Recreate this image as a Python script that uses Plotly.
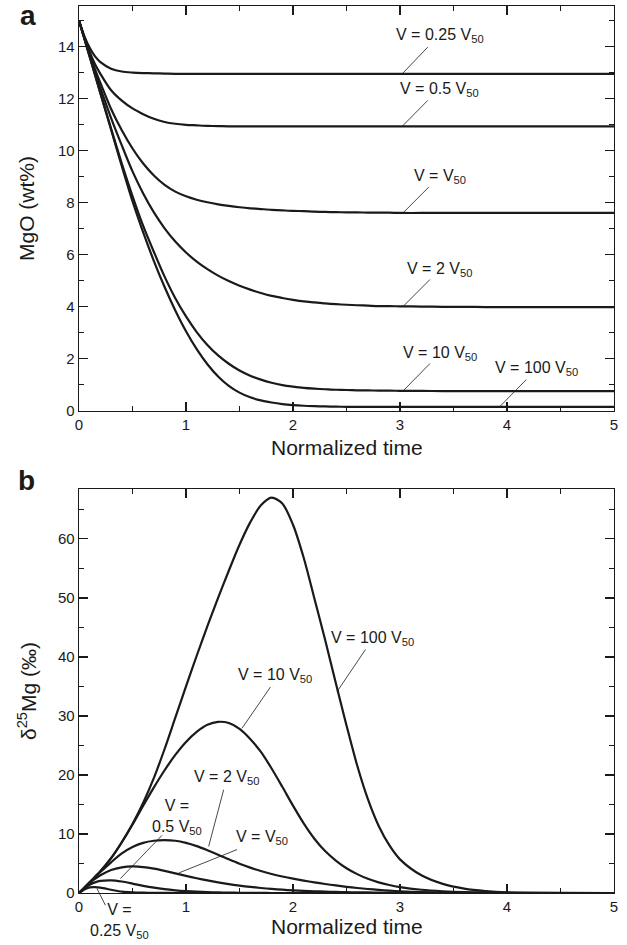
import plotly.graph_objects as go

# ---------------- data ----------------
time = [0, 0.05, 0.1, 0.15, 0.2, 0.3, 0.4, 0.5, 0.6, 0.7, 0.8, 0.9, 1.0, 1.1, 1.2,
        1.3, 1.4, 1.5, 1.6, 1.7, 1.8, 1.9, 2.0, 2.1, 2.2, 2.3, 2.4, 2.5, 2.6, 2.7,
        2.8, 2.9, 3.0, 3.2, 3.4, 3.6, 3.8, 4.0, 4.5, 5.0]

# Panel a: MgO (wt%)
mgo_025 = [15, 14.40, 13.95, 13.62, 13.40, 13.15, 13.04, 13.00, 12.98, 12.97, 12.96,
           12.95, 12.95, 12.95, 12.95, 12.95, 12.95, 12.95, 12.95, 12.95, 12.95, 12.95,
           12.95, 12.95, 12.95, 12.95, 12.95, 12.95, 12.95, 12.95, 12.95, 12.95, 12.95,
           12.95, 12.95, 12.95, 12.95, 12.95, 12.95, 12.95]
mgo_05 = [15, 14.35, 13.78, 13.32, 12.95, 12.32, 11.92, 11.62, 11.40, 11.22, 11.10,
          11.03, 10.99, 10.97, 10.95, 10.94, 10.93, 10.93, 10.93, 10.93, 10.93, 10.93,
          10.93, 10.93, 10.93, 10.93, 10.93, 10.93, 10.93, 10.93, 10.93, 10.93, 10.93,
          10.93, 10.93, 10.93, 10.93, 10.93, 10.93, 10.93]
mgo_1 = [15, 14.33, 13.70, 13.12, 12.60, 11.60, 10.78, 10.08, 9.50, 9.04, 8.68,
         8.42, 8.24, 8.11, 8.01, 7.93, 7.87, 7.82, 7.78, 7.75, 7.72, 7.70,
         7.68, 7.67, 7.65, 7.64, 7.63, 7.625, 7.62, 7.615, 7.61, 7.61, 7.60,
         7.60, 7.60, 7.60, 7.60, 7.60, 7.60, 7.60]
mgo_2 = [15, 14.32, 13.65, 13.00, 12.40, 11.25, 10.20, 9.20, 8.35, 7.62, 7.01,
         6.50, 6.08, 5.73, 5.44, 5.19, 4.98, 4.80, 4.65, 4.52, 4.41, 4.33,
         4.26, 4.20, 4.16, 4.12, 4.09, 4.07, 4.05, 4.035, 4.02, 4.015, 4.01,
         4.00, 3.99, 3.99, 3.98, 3.98, 3.98, 3.98]
mgo_10 = [15, 14.32, 13.62, 12.92, 12.22, 10.85, 9.50, 8.25, 7.10, 6.10, 5.15,
          4.32, 3.62, 3.02, 2.52, 2.12, 1.80, 1.54, 1.34, 1.19, 1.07, 0.98,
          0.92, 0.87, 0.84, 0.82, 0.80, 0.79, 0.78, 0.775, 0.77, 0.765, 0.76,
          0.755, 0.75, 0.75, 0.75, 0.75, 0.75, 0.75]
mgo_100 = [15, 14.30, 13.60, 12.90, 12.20, 10.80, 9.40, 8.05, 6.85, 5.75, 4.75,
           3.85, 3.05, 2.36, 1.78, 1.31, 0.95, 0.69, 0.51, 0.39, 0.31, 0.25,
           0.21, 0.185, 0.17, 0.16, 0.15, 0.145, 0.14, 0.14, 0.14, 0.14, 0.14,
           0.14, 0.14, 0.14, 0.14, 0.14, 0.14, 0.14]

# Panel b: delta25Mg (permil)
d25_025 = [0, 0.60, 0.95, 1.00, 0.90, 0.55, 0.22, 0.10, 0.05, 0.02, 0.01,
           0, 0, 0, 0, 0, 0, 0, 0, 0, 0, 0, 0, 0, 0, 0, 0, 0, 0, 0,
           0, 0, 0, 0, 0, 0, 0, 0, 0, 0]
d25_05 = [0, 0.80, 1.40, 1.80, 2.05, 2.15, 1.95, 1.60, 1.22, 0.90, 0.65,
          0.46, 0.32, 0.22, 0.15, 0.10, 0.06, 0.04, 0.02, 0.01, 0, 0, 0, 0, 0, 0, 0, 0, 0, 0,
          0, 0, 0, 0, 0, 0, 0, 0, 0, 0]
d25_1 = [0, 0.90, 1.70, 2.40, 3.00, 3.90, 4.35, 4.50, 4.40, 4.12, 3.74,
         3.32, 2.90, 2.50, 2.13, 1.80, 1.50, 1.25, 1.03, 0.85, 0.69, 0.56,
         0.45, 0.36, 0.29, 0.23, 0.18, 0.14, 0.11, 0.09, 0.07, 0.05, 0.04,
         0.02, 0.01, 0, 0, 0, 0, 0]
d25_2 = [0, 0.90, 1.80, 2.70, 3.55, 5.20, 6.70, 7.80, 8.50, 8.85, 8.95,
         8.85, 8.50, 7.95, 7.25, 6.50, 5.70, 4.95, 4.30, 3.72, 3.22, 2.80,
         2.43, 2.10, 1.80, 1.53, 1.28, 1.05, 0.85, 0.68, 0.53, 0.40, 0.30,
         0.15, 0.07, 0.03, 0.01, 0, 0, 0]
d25_10 = [0, 0.90, 1.80, 2.75, 3.70, 5.90, 8.60, 11.60, 14.80, 17.90, 20.80,
          23.40, 25.60, 27.30, 28.50, 29.00, 28.80, 27.80, 26.10, 23.90, 21.10, 18.00,
          14.80, 11.80, 9.20, 7.10, 5.50, 4.20, 3.20, 2.40, 1.80, 1.35, 1.00,
          0.55, 0.30, 0.15, 0.07, 0.03, 0, 0]
d25_100 = [0, 0.90, 1.80, 2.75, 3.70, 5.90, 8.60, 11.70, 15.30, 19.50, 24.40,
           29.70, 35.00, 40.20, 45.20, 50.00, 54.60, 59.00, 62.80, 65.70, 67.00, 66.00,
           62.40, 56.80, 49.90, 42.90, 35.60, 28.40, 21.60, 15.90, 11.40, 8.10, 5.70,
           3.00, 1.55, 0.75, 0.33, 0.12, 0.01, 0]

mgo_series = [mgo_025, mgo_05, mgo_1, mgo_2, mgo_10, mgo_100]
d25_series = [d25_025, d25_05, d25_1, d25_2, d25_10, d25_100]
names = ["V = 0.25 V50", "V = 0.5 V50", "V = V50", "V = 2 V50", "V = 10 V50", "V = 100 V50"]

# label texts: (text, text x, text y, leader tail x, tail y, leader head x, head y) in data units
labels_a = [
    ("V = 0.25 V<sub>50</sub>", 3.37, 14.43, 3.26, 13.98, 3.02, 12.95),
    ("V = 0.5 V<sub>50</sub>", 3.37, 12.36, 3.26, 11.93, 3.02, 10.93),
    ("V = V<sub>50</sub>", 3.37, 9.01, 3.27, 8.60, 3.03, 7.61),
    ("V = 2 V<sub>50</sub>", 3.37, 5.42, 3.28, 5.04, 3.03, 4.01),
    ("V = 10 V<sub>50</sub>", 3.37, 2.18, 3.28, 1.81, 3.03, 0.76),
    ("V = 100 V<sub>50</sub>", 4.28, 1.63, 4.18, 1.19, 3.93, 0.14),
]
labels_b = [
    ("V = 100 V<sub>50</sub>", 2.74, 43.1, 2.677, 41.25, 2.411, 34.1),
    ("V = 10 V<sub>50</sub>", 1.835, 36.9, 1.789, 34.9, 1.523, 27.9),
    ("V = 2 V<sub>50</sub>", 1.383, 19.5, 1.352, 17.5, 1.212, 7.9),
    ("V = V<sub>50</sub>", 1.71, 9.36, 1.477, 7.36, 0.932, 3.39),
    ("V =<br>0.5 V<sub>50</sub>", 0.92, 12.9, 0.776, 9.78, 0.387, 2.44),
    ("V =<br>0.25 V<sub>50</sub>", 0.38, -4.8, 0.247, -2.08, 0.168, 0.75),
]

# ---------------- figure ----------------
FONT = "Liberation Sans, Arial, Helvetica, sans-serif"
INK = "#1a1a1a"
XR = [0, 5]
YA_R = [0, 15.56]
YB_R = [0, 68.4]
YA_DOM = [0.5439, 1.0]
YB_DOM = [0.0, 0.4551]

fig = go.Figure()
for s, nm in zip(mgo_series, names):
    fig.add_trace(go.Scatter(x=time, y=s, mode="lines", name=nm, xaxis="x", yaxis="y",
                             line=dict(color=INK, width=2.2, shape="spline", smoothing=0.8),
                             hoverinfo="skip"))
for s, nm in zip(d25_series, names):
    fig.add_trace(go.Scatter(x=time, y=s, mode="lines", name=nm, xaxis="x2", yaxis="y2",
                             line=dict(color=INK, width=2.2, shape="spline", smoothing=0.8),
                             hoverinfo="skip"))

axis_common = dict(showline=True, linecolor=INK, linewidth=1.3, mirror="ticks",
                   ticks="inside", ticklen=9, tickwidth=1.2, tickcolor=INK,
                   showgrid=False, zeroline=False,
                   tickfont=dict(family=FONT, size=15, color=INK))
minor_common = dict(ticklen=5, ticks="inside", tickcolor=INK, tickwidth=1.1)

fig.update_layout(
    width=627, height=945,
    margin=dict(l=79, r=13, t=6, b=52),
    plot_bgcolor="white", paper_bgcolor="white",
    showlegend=False,
    font=dict(family=FONT, color=INK),
    xaxis=dict(domain=[0, 1], anchor="y", range=XR, dtick=1, tick0=0,
               minor=dict(dtick=0.5, **minor_common), **axis_common),
    yaxis=dict(domain=YA_DOM, anchor="x", range=YA_R, dtick=2, tick0=0,
               minor=dict(dtick=1, **minor_common), **axis_common),
    xaxis2=dict(domain=[0, 1], anchor="y2", range=XR, dtick=1, tick0=0,
                minor=dict(dtick=0.5, **minor_common), **axis_common),
    yaxis2=dict(domain=YB_DOM, anchor="x2", range=YB_R, dtick=10, tick0=0,
                minor=dict(dtick=5, **minor_common), **axis_common),
)


def to_paper_b(xv, yv):
    px = (xv - XR[0]) / (XR[1] - XR[0])
    py = YB_DOM[0] + (yv - YB_R[0]) / (YB_R[1] - YB_R[0]) * (YB_DOM[1] - YB_DOM[0])
    return px, py


ann = []
shapes = []
for (xr, yr, lab) in [("x", "y", labels_a), ("x2", "y2", labels_b)]:
    for text, tx, ty, lx0, ly0, lx1, ly1 in lab:
        font = dict(family=FONT, size=16, color=INK)
        if ty < 0 or ly0 < 0:
            # outside the axis range: place in paper coordinates
            ptx, pty = to_paper_b(tx, ty)
            p0 = to_paper_b(lx0, ly0)
            p1 = to_paper_b(lx1, ly1)
            ann.append(dict(xref="paper", yref="paper", x=ptx, y=pty, text=text,
                            showarrow=False, xanchor="center", yanchor="middle",
                            align="center", font=font))
            shapes.append(dict(type="line", xref="paper", yref="paper",
                               x0=p0[0], y0=p0[1], x1=p1[0], y1=p1[1],
                               line=dict(color=INK, width=0.8)))
        else:
            ann.append(dict(xref=xr, yref=yr, x=tx, y=ty, text=text, showarrow=False,
                            xanchor="center", yanchor="middle", align="center", font=font))
            shapes.append(dict(type="line", xref=xr, yref=yr, x0=lx0, y0=ly0, x1=lx1, y1=ly1,
                               line=dict(color=INK, width=0.8)))

# axis titles and panel letters
ann += [
    dict(xref="paper", yref="paper", x=0.5, y=0.5028, text="Normalized time",
         showarrow=False, xanchor="center", yanchor="middle",
         font=dict(family=FONT, size=21, color=INK)),
    dict(xref="paper", yref="paper", x=0.5, y=-0.0383, text="Normalized time",
         showarrow=False, xanchor="center", yanchor="middle",
         font=dict(family=FONT, size=21, color=INK)),
    dict(xref="paper", yref="paper", x=-0.0972, y=0.7723, text="MgO (wt%)",
         showarrow=False, xanchor="center", yanchor="middle", textangle=-90,
         font=dict(family=FONT, size=21, color=INK)),
    dict(xref="paper", yref="paper", x=-0.0972, y=0.2277, text="δ<sup>25</sup>Mg (‰)",
         showarrow=False, xanchor="center", yanchor="middle", textangle=-90,
         font=dict(family=FONT, size=21, color=INK)),
    dict(xref="paper", yref="paper", x=-0.114, y=1.009, text="<b>a</b>",
         showarrow=False, xanchor="left", yanchor="top",
         font=dict(family=FONT, size=28, color=INK)),
    dict(xref="paper", yref="paper", x=-0.118, y=0.4845, text="<b>b</b>",
         showarrow=False, xanchor="left", yanchor="top",
         font=dict(family=FONT, size=28, color=INK)),
]
fig.update_layout(annotations=ann, shapes=shapes)

fig.write_html("out.html", config={"displayModeBar": False, "staticPlot": True},
               post_script="document.body.style.margin='0';document.body.style.overflow='hidden';")
